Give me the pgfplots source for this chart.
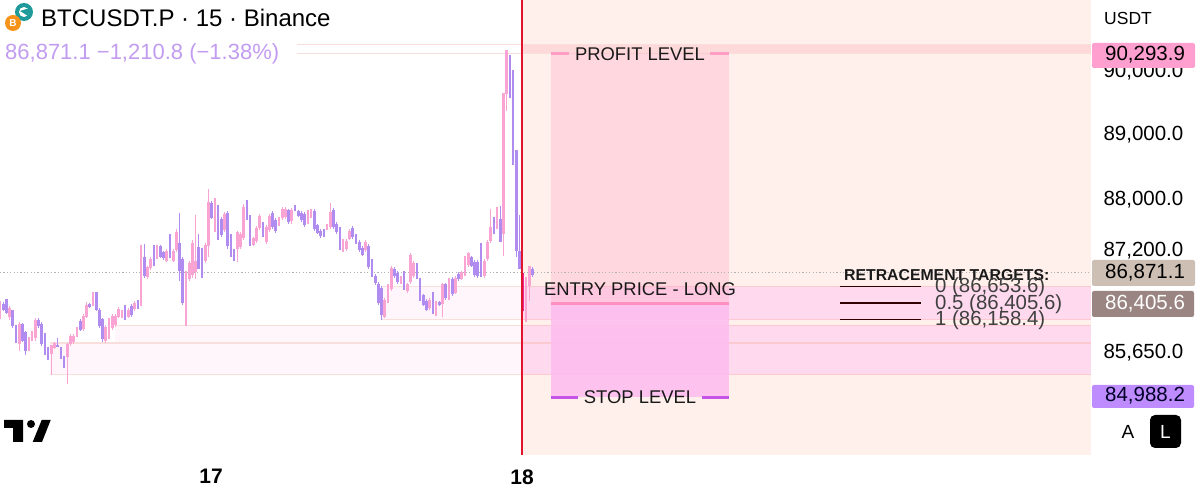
\documentclass[border=0pt]{standalone}
\usepackage{pgfplots}
\usepackage{pgfplotstable}
\usepackage{fontspec}
\setmainfont{Liberation Sans}
\pgfplotsset{compat=1.18}
\definecolor{cpink}{HTML}{F9A4D2}
\definecolor{cpurple}{HTML}{B18CF0}
\definecolor{peach}{HTML}{FFF0EB}
\definecolor{zoneL}{HTML}{FFF6FB}
\definecolor{zoneR}{HTML}{FFD9EE}
\definecolor{zoneline}{HTML}{F8DFDC}
\definecolor{zonelineR}{HTML}{FBC9CF}
\definecolor{bandR}{HTML}{FDD9DA}
\definecolor{profit}{HTML}{FF9FC0}
\definecolor{loss}{HTML}{FDBEEF}
\definecolor{entryc}{HTML}{FF8FC0}
\definecolor{profitc}{HTML}{FF9DC6}
\definecolor{stopc}{HTML}{C455E6}
\definecolor{redline}{HTML}{E2142D}
\definecolor{subc}{HTML}{C29CF0}
\definecolor{tag1}{HTML}{FF9FD0}
\definecolor{tag2}{HTML}{CDBFB4}
\definecolor{tag3}{HTML}{9A8583}
\definecolor{tag4}{HTML}{BF8CFF}
\definecolor{tealc}{HTML}{1F9A9A}
\definecolor{btc}{HTML}{F7931A}
\pgfplotstableread{
i h l t b
0 86432 86163 86380 86240
3 86365 86157 86335 86190
6 86121 85681 86090 85790
9 85888 85681 85870 85780
10 85981 85826 85950 85850
11 86173 85836 86150 85870
16 85774 85318 85774 85640
17 85815 85707 85800 85720
21 85795 85189 85785 85580
22 85929 85758 85900 85790
23 85940 85784 85910 85810
24 86043 85888 86010 85910
26 86240 85976 86210 86010
27 86416 86173 86385 86200
29 86577 86354 86550 86380
33 86069 85800 86040 85830
34 86173 85862 86140 85890
35 86240 85992 86210 86020
36 86240 86043 86210 86070
37 86344 86173 86315 86195
38 86302 86173 86280 86190
40 86328 86173 86300 86195
42 86432 86292 86410 86310
44 87297 86354 87116 86365
46 86976 86769 86950 86800
47 87105 86908 87075 86935
49 87297 87079 87270 87100
52 87235 87028 87205 87055
54 87235 87028 87205 87055
55 87535 87183 87500 87215
58 86898 86054 86898 86380
59 87053 86743 87020 86775
60 87364 86794 87330 86830
61 87763 86769 87053 86872
64 87328 87017 87300 87045
65 88157 87105 87960 87287
67 88022 87494 87934 87520
70 87805 87494 87770 87530
74 87509 87028 87490 87235
75 87494 87235 87465 87260
76 87919 87364 87885 87400
79 87416 87276 87395 87295
80 87587 87328 87555 87355
81 87779 87520 87745 87550
83 87597 87312 87565 87345
84 87779 87494 87745 87525
87 87727 87587 87700 87610
88 87882 87675 87850 87705
89 87882 87691 87850 87720
91 87867 87623 87835 87655
96 87830 87623 87800 87650
97 87846 87701 87820 87725
102 87623 87520 87605 87535
103 87944 87546 87800 87580
107 87390 87183 87360 87210
108 87390 87209 87360 87235
109 87535 87364 87505 87390
114 87364 87183 87335 87210
120 86484 86173 86455 86200
121 86691 86406 86660 86435
122 86976 86587 86945 86620
125 86820 86691 86800 86710
127 86717 86561 86695 86585
128 87173 86691 87140 86725
129 87053 86794 87020 86825
134 86484 86302 86455 86330
136 86432 86214 86405 86245
138 86717 86199 86690 86400
140 86794 86458 86765 86490
142 86820 86535 86790 86565
144 86898 86753 86875 86775
145 87121 86820 87090 86850
146 87193 86950 87165 86980
151 87079 86784 87050 86815
152 87364 87053 87335 87085
153 87856 87328 87571 87360
155 87882 87546 87850 87580
157 89653 87121 89653 87468
158 90341 89384 90341 89642
163 87002 86148 86862 86277
164 86795 86122 86640 86160
165 86966 86433 86966 86666
}\pinkdata
\pgfplotstableread{
i h l t b
1 86416 86276 86400 86300
2 86473 86240 86465 86260
4 86302 86033 86295 86050
5 86080 85795 86075 85800
7 86095 85810 86085 85830
8 85981 85613 85970 85680
12 86173 86028 86150 86050
13 86111 85758 86090 85790
14 85955 85619 85950 85650
15 85748 85536 85730 85630
18 85872 85733 85770 85740
19 85748 85562 85735 85590
20 85603 85422 85590 85570
25 86163 85976 86140 86000
28 86406 86328 86395 86340
30 86577 86276 86570 86300
31 86328 86028 86300 86060
32 86183 85821 86160 85860
39 86380 86147 86350 86180
41 86390 86199 86360 86230
43 86447 86313 86425 86340
45 87312 86794 87116 86820
48 87297 86976 87270 87010
50 87297 87090 87270 87115
51 87209 87069 87190 87090
53 87458 87090 87425 87120
56 87789 86743 87328 86898
57 87105 86380 87080 86410
62 87458 86924 87261 86924
63 87250 86784 87220 86815
66 87970 87691 87945 87715
68 87908 87364 87880 87400
69 87727 87416 87695 87450
71 87815 87235 87785 87270
72 87468 87105 87440 87135
73 87235 87053 87210 87080
77 87986 87675 87955 87705
78 87763 87287 87735 87320
82 87649 87416 87620 87445
85 87815 87546 87785 87575
86 87701 87483 87670 87510
90 87856 87623 87825 87650
92 87908 87815 87890 87830
93 87830 87727 87810 87745
94 87815 87649 87785 87675
95 87805 87571 87775 87600
98 87841 87504 87815 87535
99 87623 87458 87595 87485
100 87535 87401 87510 87425
101 87546 87416 87520 87440
104 87867 87546 87835 87580
105 87639 87468 87610 87495
106 87571 87219 87540 87250
110 87587 87390 87560 87420
111 87458 87312 87430 87335
112 87364 87183 87335 87210
113 87271 87121 87245 87145
115 87302 86924 87275 86955
116 87079 86810 87050 86840
117 86846 86681 86820 86705
118 86727 86380 86700 86410
119 86665 86147 86635 86220
123 86950 86794 86925 86820
124 86898 86691 86870 86720
126 86898 86613 86870 86645
130 87012 86769 86985 86800
131 86794 86432 86765 86465
132 86551 86354 86525 86380
133 86468 86276 86440 86305
135 86577 86240 86550 86270
137 86442 86365 86425 86380
139 86717 86458 86690 86490
141 86810 86520 86780 86550
143 86872 86743 86850 86765
147 87131 86950 87105 86975
148 87069 86810 87040 86840
149 87069 86794 87040 86825
150 87328 86810 87300 86840
154 87727 87468 87700 87500
156 87893 87338 87691 87338
159 90264 89591 90264 89875
160 90031 88529 90031 88659
161 88762 87106 88762 87209
162 87753 86925 87209 86925
166 86950 86811 86925 86830
}\purpledata
\newcommand{\zone}[5]{\addplot[fill=#1,draw=none,forget plot] coordinates {(#2,#4)(#3,#4)(#3,#5)(#2,#5)} -- cycle;}
\newcommand{\hlevel}[5]{\addplot[#1,line width=#2,forget plot] coordinates {(#3,#5)(#4,#5)};}
% draws wick and body of every candle of a table
\newcommand{\candles}[2]{%
  \pgfplotstablegetrowsof{#1}\pgfmathtruncatemacro\lastrow{\pgfplotsretval-1}%
  \pgfplotsinvokeforeach{0,...,\lastrow}{%
    \pgfplotstablegetelem{##1}{i}\of#1\edef\ci{\pgfplotsretval}%
    \pgfplotstablegetelem{##1}{h}\of#1\edef\ch{\pgfplotsretval}%
    \pgfplotstablegetelem{##1}{l}\of#1\edef\cl{\pgfplotsretval}%
    \pgfplotstablegetelem{##1}{t}\of#1\edef\ct{\pgfplotsretval}%
    \pgfplotstablegetelem{##1}{b}\of#1\edef\cb{\pgfplotsretval}%
    \edef\temp{\noexpand\addplot[#2,line width=1.3pt,forget plot] coordinates {(\ci,\ch)(\ci,\cl)};
               \noexpand\addplot[#2,line width=2.7pt,forget plot] coordinates {(\ci,\ct)(\ci,\cb)};}%
    \temp
  }%
}
\begin{document}
\begin{tikzpicture}[x=1pt,y=1pt]
\path[use as bounding box] (0,0) rectangle (1200,492);
\begin{axis}[
  at={(0pt,37pt)},anchor=south west,
  width=1091pt,height=455pt,scale only axis,
  xmin=0,xmax=340.2,
  y coord trafo/.code={\begingroup\pgfkeys{/pgf/fpu=true,/pgf/fpu/output format=fixed}\pgfmathparse{ln(#1)}\global\let\logprice\pgfmathresult\endgroup\let\pgfmathresult\logprice},
  ymin=84124,ymax=91140,
  axis line style={draw=none},
  tick style={draw=none},
  xtick={65.8,162.8},xticklabels={17,18},
  xticklabel style={font=\fontsize{21}{21}\selectfont\bfseries,yshift=-11pt},
  ytick={85650,87200,88000,89000,90000},
  yticklabels={{85,650.0},{87,200.0},{88,000.0},{89,000.0},{90,000.0}},
  yticklabel pos=right,
  yticklabel style={font=\fontsize{20.5}{20.5}\selectfont,anchor=west,xshift=9pt},
  minor y tick num=0,
  clip=false,
]
\zone{peach}{162.8}{340.2}{84124}{91140}
\zone{bandR}{162.8}{340.2}{90295}{90437}
\hlevel{zoneline}{1pt}{92.6}{340.2}{90437}
\hlevel{zoneline}{1pt}{92.6}{340.2}{90295}
\zone{zoneL}{119.1}{162.8}{86158.4}{86653.6}
\zone{zoneL}{35.9}{162.8}{85799}{86061}
\zone{zoneL}{15.6}{162.8}{85332}{85799}
\zone{zoneR}{162.8}{340.2}{86158.4}{86653.6}
\zone{zoneR}{162.8}{340.2}{85799}{86061}
\zone{zoneR}{162.8}{340.2}{85332}{85799}
\hlevel{zoneline}{1pt}{119.1}{162.8}{86653.6}
\hlevel{zoneline}{1pt}{119.1}{162.8}{86158.4}
\hlevel{zoneline}{1pt}{35.9}{162.8}{86061}
\hlevel{zoneline}{1.4pt}{15.6}{162.8}{85799}
\hlevel{zoneline}{1pt}{15.6}{162.8}{85332}
\hlevel{zonelineR}{1pt}{162.8}{340.2}{86653.6}
\hlevel{zonelineR}{1pt}{162.8}{340.2}{86158.4}
\hlevel{zonelineR}{1pt}{162.8}{340.2}{86061}
\hlevel{zonelineR}{1.4pt}{162.8}{340.2}{85799}
\hlevel{zonelineR}{1pt}{162.8}{340.2}{85332}
% long position box
\addplot[fill=profit,fill opacity=.3,draw=none,forget plot] coordinates {(171.8,86405.6)(227.3,86405.6)(227.3,90293.9)(171.8,90293.9)} -- cycle;
\addplot[fill=loss,fill opacity=.9,draw=none,forget plot] coordinates {(171.8,84988.2)(227.3,84988.2)(227.3,86405.6)(171.8,86405.6)} -- cycle;
\addplot[gray!60,dash pattern=on 1.1pt off 2.3pt,line width=1.1pt,forget plot] coordinates {(0,86871.1)(340.2,86871.1)};
\candles{\pinkdata}{cpink}
\candles{\purpledata}{cpurple}
\addplot[color=magenta!80!cpink,line width=2.5pt,forget plot] coordinates {(163,86862)(163,86277)};
% position levels
\hlevel{profitc}{3pt}{171.8}{177.4}{90293.9}
\hlevel{profitc}{3pt}{221.4}{227.3}{90293.9}
\hlevel{entryc}{3pt}{171.8}{227.3}{86405.6}
\hlevel{stopc}{3pt}{171.8}{180.2}{84988.2}
\hlevel{stopc}{3pt}{218.9}{227.3}{84988.2}
% retracement lines
\hlevel{black!80!red}{1.3pt}{261.9}{287.2}{86653.6}
\hlevel{black!80!red}{1.3pt}{261.9}{287.2}{86405.6}
\hlevel{black!80!red}{1.3pt}{261.9}{287.2}{86158.4}
\addplot[redline,line width=1.5pt,forget plot] coordinates {(162.8,84124)(162.8,91140)};
\end{axis}
% header
\fill[tealc] (24,480) circle (9);
\fill[white] (24,480) circle (5);
\fill[tealc] (20,481) -- (30,484) -- (28,476) -- cycle;
\fill[btc] (13,469) circle (8);
\node[text=white,font=\fontsize{10}{10}\selectfont\bfseries] at (13,469) {B};
\node[anchor=base west,font=\fontsize{24}{24}\selectfont,inner sep=0] at (41,465) {BTCUSDT.P · 15 · Binance};
\node[anchor=base west,text=subc,font=\fontsize{22}{22}\selectfont,inner sep=0] at (5,432) {86,871.1 −1,210.8 (−1.38\%)};
% level texts
\node[font=\fontsize{18.4}{18}\selectfont,inner sep=0,text=black!90] at (640,438) {PROFIT LEVEL};
\node[font=\fontsize{18.4}{18}\selectfont,inner sep=0,text=black!90] at (640,203) {ENTRY PRICE - LONG};
\node[font=\fontsize{18.4}{18}\selectfont,inner sep=0,text=black!90] at (640,95) {STOP LEVEL};
% retracement labels
\node[anchor=base west,font=\fontsize{15.8}{16}\selectfont\bfseries,inner sep=0,text=black!90] at (844,211) {RETRACEMENT TARGETS:};
\node[anchor=west,font=\fontsize{20.4}{20}\selectfont,inner sep=0,text=black!75] at (935,204.5) {0 (86,653.6)};
\node[anchor=west,font=\fontsize{20.4}{20}\selectfont,inner sep=0,text=black!75] at (935,188) {0.5 (86,405.6)};
\node[anchor=west,font=\fontsize{20.4}{20}\selectfont,inner sep=0,text=black!75] at (935,172) {1 (86,158.4)};
% price tags
\fill[rounded corners=2pt,fill=tag1] (1092,424) rectangle (1195,449);
\node[font=\fontsize{20.5}{20}\selectfont] at (1145,437) {90,293.9};
\fill[rounded corners=2pt,fill=tag2] (1092,206) rectangle (1195,232);
\node[font=\fontsize{20.5}{20}\selectfont] at (1145,219) {86,871.1};
\fill[rounded corners=2pt,fill=tag3] (1092,175) rectangle (1194,201);
\node[text=white,font=\fontsize{20.5}{20}\selectfont] at (1145,188) {86,405.6};
\fill[rounded corners=2pt,fill=tag4] (1092,84) rectangle (1194,107);
\node[text=black!85!blue,font=\fontsize{20.5}{20}\selectfont] at (1145,96) {84,988.2};
\node[anchor=base west,font=\fontsize{17.5}{17}\selectfont,inner sep=0] at (1104,467) {USDT};
% A / L buttons
\node[font=\fontsize{19}{19}\selectfont] at (1128,60) {A};
\fill[black,rounded corners=5pt] (1150,44) rectangle (1181,77);
\node[text=white,font=\fontsize{19}{19}\selectfont] at (1165.5,60) {L};
% logo
\fill[black] (4,72) -- (23,72) -- (23,50) -- (13,50) -- (13,64) -- (4,64) -- cycle;
\fill[black] (31,68) circle (4);
\fill[black] (41.7,72) -- (50.7,72) -- (42,50) -- (32.7,50) -- cycle;
\end{tikzpicture}
\end{document}
